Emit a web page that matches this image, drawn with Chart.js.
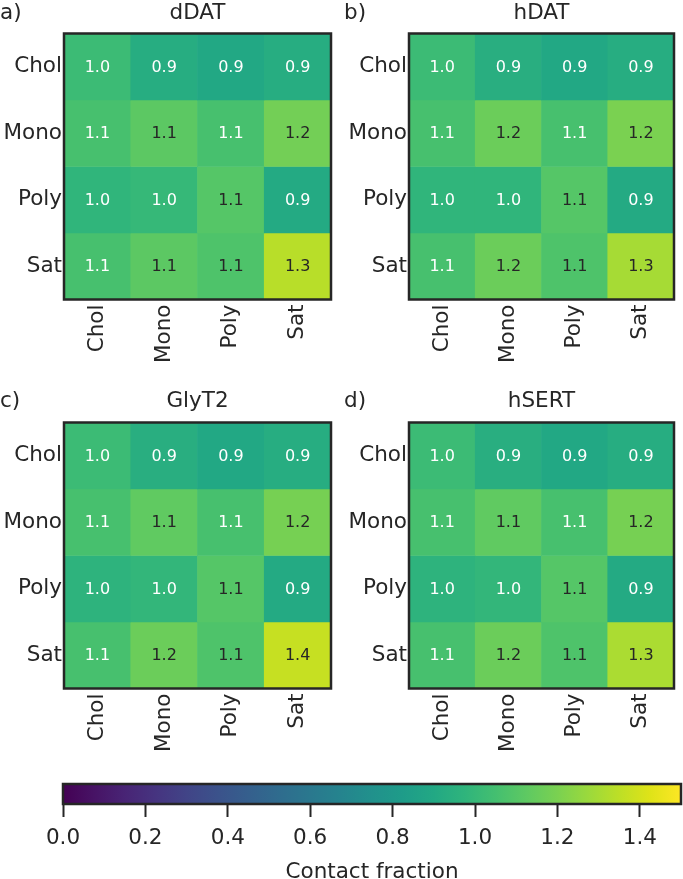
<!DOCTYPE html>
<html>
<head>
<meta charset="utf-8">
<script src="https://cdn.jsdelivr.net/npm/chart.js@4.4.1/dist/chart.umd.min.js"></script>
<style>
  html, body { margin: 0; padding: 0; background: #fff; overflow: hidden; }
  body { width: 683px; height: 879px; position: relative; font-family: "DejaVu Sans", sans-serif; color: #262626; }
  .panel { position: absolute; height: 380px; }
  .txt { position: absolute; font-size: 21.5px; line-height: 24px; white-space: nowrap; }
  .title { transform: translateX(-50%); }
  #cbar { position: absolute; left: 0; top: 770px; width: 683px; height: 115px; }
</style>
</head>
<body>
<div class="panel" style="left:0;top:0;width:340px"><canvas id="hm-a"></canvas></div>
<div class="panel" style="left:345px;top:0;width:338px"><canvas id="hm-b"></canvas></div>
<div class="panel" style="left:0;top:389px;width:340px"><canvas id="hm-c"></canvas></div>
<div class="panel" style="left:345px;top:389px;width:338px"><canvas id="hm-d"></canvas></div>

<div class="txt" style="left:0;top:0">a)</div>
<div class="txt title" style="left:197.5px;top:0">dDAT</div>
<div class="txt" style="left:344px;top:0">b)</div>
<div class="txt title" style="left:541.5px;top:0">hDAT</div>
<div class="txt" style="left:0;top:388px">c)</div>
<div class="txt title" style="left:197.5px;top:388px">GlyT2</div>
<div class="txt" style="left:344px;top:388px">d)</div>
<div class="txt title" style="left:541.5px;top:388px">hSERT</div>

<div id="cbar"><canvas id="cbar-canvas"></canvas></div>

<script>
// lipid classes (rows and columns are the same)
const rows = ['Chol', 'Mono', 'Poly', 'Sat'];
const cols = ['Chol', 'Mono', 'Poly', 'Sat'];

const dDAT = [
  [1.02, 0.93, 0.90, 0.93],
  [1.06, 1.12, 1.06, 1.18],
  [0.98, 1.00, 1.10, 0.91],
  [1.06, 1.12, 1.08, 1.34]
];
const hDAT = [
  [1.02, 0.94, 0.90, 0.93],
  [1.06, 1.16, 1.06, 1.20],
  [0.98, 0.98, 1.10, 0.91],
  [1.06, 1.16, 1.08, 1.30]
];
const glyT2 = [
  [1.02, 0.94, 0.90, 0.93],
  [1.06, 1.13, 1.06, 1.19],
  [0.97, 0.99, 1.10, 0.91],
  [1.06, 1.16, 1.08, 1.37]
];
const hSERT = [
  [1.02, 0.94, 0.90, 0.93],
  [1.06, 1.13, 1.06, 1.19],
  [0.97, 0.99, 1.10, 0.91],
  [1.06, 1.16, 1.08, 1.31]
];

const vmin = 0;
const vmax = 1.5;
const cbTicks = [0, 0.2, 0.4, 0.6, 0.8, 1.0, 1.2, 1.4];

const INK = '#262626';
const FONT = '"DejaVu Sans", sans-serif';

// viridis sampled every 0.05
const viridis = ['#440154','#471365','#482475','#463480','#414487','#3b528b','#355f8d',
  '#2f6c8e','#2a788e','#25848e','#21918c','#1e9c89','#22a884','#2fb47c','#44bf70',
  '#5ec962','#7ad151','#9bd93c','#bddf26','#dfe318','#fde725'];

function hexRgb(h) {
  return [parseInt(h.slice(1, 3), 16), parseInt(h.slice(3, 5), 16), parseInt(h.slice(5, 7), 16)];
}

function cmap(v) {
  let t = (v - vmin) / (vmax - vmin);
  t = Math.min(1, Math.max(0, t));
  const pos = t * (viridis.length - 1);
  const i = Math.min(viridis.length - 2, Math.floor(pos));
  const f = pos - i;
  const a = hexRgb(viridis[i]), b = hexRgb(viridis[i + 1]);
  return a.map((c, k) => Math.round(c + (b[k] - c) * f));
}

function rgbStr(c) { return 'rgb(' + c.join(',') + ')'; }

// same rule seaborn uses for annotation colour
function textColor(v) {
  const lin = cmap(v).map(c => {
    c = c / 255;
    return c <= 0.03928 ? c / 12.92 : Math.pow((c + 0.055) / 1.055, 2.4);
  });
  const lum = 0.2126 * lin[0] + 0.7152 * lin[1] + 0.0722 * lin[2];
  return lum > 0.408 ? INK : '#ffffff';
}

const frameBox = {
  id: 'frameBox',
  afterDraw(chart) {
    const a = chart.chartArea;
    const ctx = chart.ctx;
    ctx.save();
    ctx.strokeStyle = INK;
    ctx.lineWidth = 2.5;
    ctx.strokeRect(a.left, a.top, a.right - a.left, a.bottom - a.top);
    ctx.restore();
  }
};

const cellLabels = {
  id: 'cellLabels',
  afterDatasetsDraw(chart) {
    const ctx = chart.ctx;
    ctx.save();
    ctx.font = '16px ' + FONT;
    ctx.textAlign = 'center';
    ctx.textBaseline = 'middle';
    chart.data.datasets.forEach((ds, i) => {
      chart.getDatasetMeta(i).data.forEach((bar, j) => {
        const v = ds.values[j];
        const p = bar.getCenterPoint();
        ctx.fillStyle = textColor(v);
        ctx.fillText((Math.round(v * 10) / 10).toFixed(1), p.x, p.y + 1);
      });
    });
    ctx.restore();
  }
};

function heatmap(id, matrix) {
  const datasets = rows.map((r, i) => ({
    label: r,
    values: matrix[i],
    data: cols.map(() => [i - 0.5, i + 0.5]),
    backgroundColor: matrix[i].map(v => rgbStr(cmap(v))),
    borderWidth: 0,
    grouped: false,
    barPercentage: 1,
    categoryPercentage: 1
  }));

  return new Chart(document.getElementById(id), {
    type: 'bar',
    data: { labels: cols, datasets: datasets },
    options: {
      responsive: true,
      maintainAspectRatio: false,
      animation: false,
      layout: { padding: { top: 33.5, right: 9, bottom: 0, left: 0 } },
      plugins: { legend: { display: false }, tooltip: { enabled: false } },
      scales: {
        x: {
          type: 'category',
          grid: { display: false, drawTicks: false },
          border: { display: false },
          ticks: { color: INK, font: { family: FONT, size: 21.5 }, maxRotation: 90, minRotation: 90, padding: 5 },
          afterFit: s => { s.height = 80.5; }
        },
        y: {
          type: 'linear',
          min: -0.5,
          max: rows.length - 0.5,
          reverse: true,
          grid: { display: false, drawTicks: false },
          border: { display: false },
          afterBuildTicks: s => { s.ticks = rows.map((_, i) => ({ value: i })); },
          ticks: { color: INK, font: { family: FONT, size: 21.5 }, padding: 2, callback: v => rows[v] },
          afterFit: s => { s.width = 64; }
        }
      }
    },
    plugins: [cellLabels, frameBox]
  });
}

heatmap('hm-a', dDAT);
heatmap('hm-b', hDAT);
heatmap('hm-c', glyT2);
heatmap('hm-d', hSERT);

// colour bar
new Chart(document.getElementById('cbar-canvas'), {
  type: 'bar',
  data: {
    labels: ['cbar'],
    datasets: [{
      data: [[vmin, vmax]],
      borderWidth: 0,
      barPercentage: 1,
      categoryPercentage: 1,
      backgroundColor: ctx => {
        const area = ctx.chart.chartArea;
        if (!area) return null;
        const g = ctx.chart.ctx.createLinearGradient(area.left, 0, area.right, 0);
        viridis.forEach((c, i) => g.addColorStop(i / (viridis.length - 1), c));
        return g;
      }
    }]
  },
  options: {
    indexAxis: 'y',
    responsive: true,
    maintainAspectRatio: false,
    animation: false,
    layout: { padding: { top: 14, right: 2, bottom: 0, left: 63 } },
    plugins: { legend: { display: false }, tooltip: { enabled: false } },
    scales: {
      y: { display: false },
      x: {
        type: 'linear',
        min: vmin,
        max: vmax,
        grid: { drawOnChartArea: false, drawTicks: true, tickLength: 13, tickWidth: 2, tickColor: INK },
        border: { display: false },
        afterBuildTicks: s => { s.ticks = cbTicks.map(v => ({ value: v })); },
        ticks: { color: INK, font: { family: FONT, size: 21.5 }, padding: 9, callback: v => v.toFixed(1) },
        title: { display: true, text: 'Contact fraction', color: INK, font: { family: FONT, size: 21.5 }, padding: { top: 0, bottom: 0 } },
        afterFit: s => { s.height = 81; }
      }
    }
  },
  plugins: [frameBox]
});
</script>
</body>
</html>
